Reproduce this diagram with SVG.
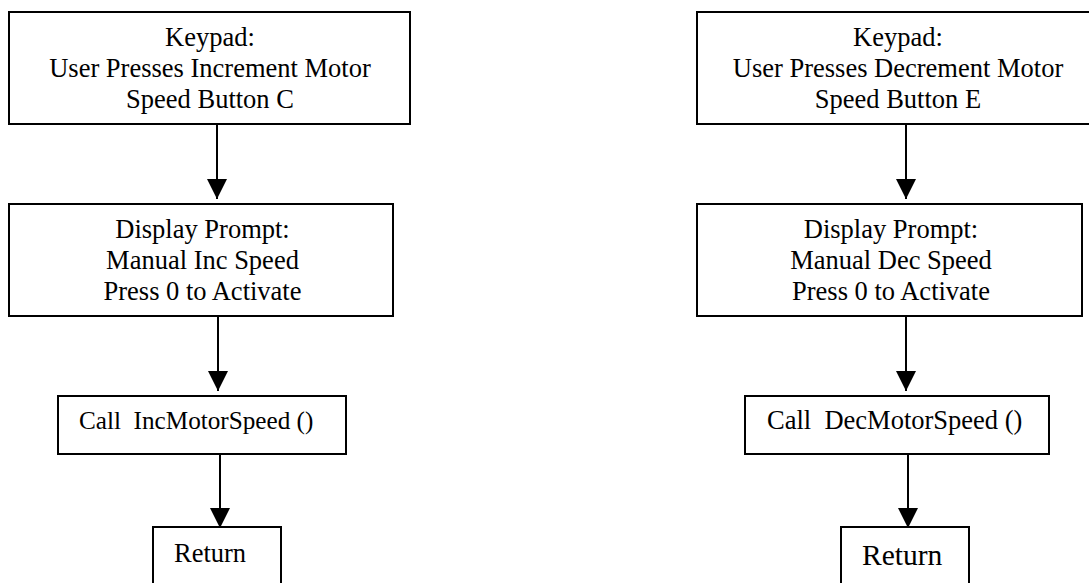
<svg xmlns="http://www.w3.org/2000/svg" width="1089" height="583" viewBox="0 0 1089 583">
<style>
.box{fill:#fff;stroke:#000;stroke-width:2}
.t{font-family:"Liberation Serif","Times New Roman",serif;font-size:26.5px;fill:#000;text-anchor:middle}
.ts{font-family:"Liberation Serif","Times New Roman",serif;fill:#000;white-space:pre}
.c{stroke:#000;stroke-width:2;fill:none;marker-end:url(#ah)}
</style>
<defs>
<marker id="ah" markerUnits="userSpaceOnUse" markerWidth="20" markerHeight="20" viewBox="0 0 20 20" refX="20" refY="10" orient="auto">
<path d="M0,0 L20,10 L0,20 z" fill="#000"/>
</marker>
</defs>
<rect width="1089" height="583" fill="#fff"/>
<g id="connectors">
<path class="c" d="M217,124 L217,199"/>
<path class="c" d="M218,316 L218,391"/>
<path class="c" d="M220,454 L220,528"/>
<path class="c" d="M906,124 L906,199"/>
<path class="c" d="M906,316 L906,391"/>
<path class="c" d="M908,454 L908,528"/>
</g>
<g id="inc-keypad">
<rect class="box" x="9" y="12" width="401" height="112"/>
<text class="t" x="210" y="46">Keypad:</text>
<text class="t" x="210" y="77">User Presses Increment Motor</text>
<text class="t" x="210" y="108">Speed Button C</text>
</g>
<g id="inc-display">
<rect class="box" x="9" y="204" width="384" height="112"/>
<text class="t" x="202.5" y="238">Display Prompt:</text>
<text class="t" x="202.5" y="269">Manual Inc Speed</text>
<text class="t" x="202.5" y="300">Press 0 to Activate</text>
</g>
<g id="inc-call">
<rect class="box" x="58" y="396" width="288" height="58"/>
<text class="ts" x="79" y="429" font-size="25.2" xml:space="preserve">Call  IncMotorSpeed ()</text>
</g>
<g id="inc-return">
<rect class="box" x="153" y="527" width="128" height="70"/>
<text class="ts" x="174" y="562" font-size="26.5">Return</text>
</g>
<g id="dec-keypad">
<rect class="box" x="697" y="12" width="402" height="112"/>
<text class="t" x="898" y="46">Keypad:</text>
<text class="t" x="898" y="77">User Presses Decrement Motor</text>
<text class="t" x="898" y="108">Speed Button E</text>
</g>
<g id="dec-display">
<rect class="box" x="697" y="204" width="385" height="112"/>
<text class="t" x="891" y="238">Display Prompt:</text>
<text class="t" x="891" y="269">Manual Dec Speed</text>
<text class="t" x="891" y="300">Press 0 to Activate</text>
</g>
<g id="dec-call">
<rect class="box" x="745" y="396" width="304" height="58"/>
<text class="ts" x="767" y="429" font-size="26.5" xml:space="preserve">Call  DecMotorSpeed ()</text>
</g>
<g id="dec-return">
<rect class="box" x="841" y="527" width="128" height="70"/>
<text class="ts" x="862" y="565" font-size="29.5">Return</text>
</g>
</svg>
